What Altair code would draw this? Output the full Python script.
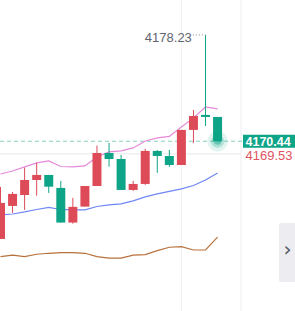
import altair as alt
import pandas as pd

# ---- data ----
opens  = [4163.28, 4165.70, 4166.50, 4167.60, 4167.97, 4167.02, 4164.48, 4165.65, 4167.16, 4169.58,
          4169.14, 4166.87, 4167.31, 4169.73, 4169.36, 4168.70, 4171.27, 4172.37, 4172.22]
closes = [4165.92, 4166.58, 4167.60, 4167.97, 4167.11, 4164.48, 4165.63, 4167.16, 4169.58, 4169.14,
          4166.87, 4167.31, 4169.73, 4169.36, 4168.70, 4171.27, 4172.29, 4172.22, 4170.44]
highs  = [4167.09, 4166.72, 4168.51, 4168.85, 4167.97, 4167.53, 4166.29, 4167.16, 4170.12, 4170.32,
          4169.44, 4167.53, 4169.88, 4169.80, 4169.80, 4171.27, 4172.73, 4178.23, 4172.22]
lows   = [4163.28, 4165.19, 4165.41, 4166.45, 4166.65, 4164.48, 4164.40, 4165.65, 4167.16, 4168.58,
          4166.87, 4166.80, 4167.24, 4168.12, 4168.56, 4168.70, 4170.32, 4171.56, 4170.44]
upper  = [4168.04, 4168.26, 4168.56, 4168.85, 4169.00, 4168.59, 4168.56, 4168.63, 4169.29, 4169.66,
          4169.73, 4169.95, 4170.46, 4170.68, 4170.79, 4171.49, 4172.15, 4172.95, 4172.81]
lower  = [4165.04, 4165.11, 4165.26, 4165.44, 4165.59, 4165.44, 4165.41, 4165.41, 4165.66, 4165.77,
          4165.85, 4166.07, 4166.36, 4166.58, 4166.76, 4166.95, 4167.20, 4167.60, 4168.12]
brown  = [4161.98, 4162.09, 4161.98, 4162.16, 4162.23, 4162.28, 4162.28, 4162.23, 4161.98, 4161.87,
          4161.87, 4162.09, 4162.13, 4162.42, 4162.67, 4162.72, 4162.47, 4162.47, 4163.41]

last_price = 4170.44
prev_price = 4169.53
max_price = 4178.23
max_index = 17
grid_index = 15

RED = "#dd4b58"
GREEN = "#0ea487"

n = len(opens)
df = pd.DataFrame({
    "i": list(range(n)),
    "open": opens, "close": closes, "high": highs, "low": lows,
    "upper": upper, "lower": lower, "brown": brown,
})
df["dir"] = ["up" if c >= o else "down" for o, c in zip(opens, closes)]

xs = alt.Scale(domain=[-0.0415, 24.42], nice=False, zero=False, padding=0)
ys = alt.Scale(domain=[4158.0, 4180.79], nice=False, zero=False, padding=0)
X = lambda f: alt.X(f, type="quantitative", scale=xs, axis=None)
Y = lambda f: alt.Y(f, type="quantitative", scale=ys, axis=None)
col = alt.Color("dir:N", scale=alt.Scale(domain=["up", "down"], range=[RED, GREEN]), legend=None)

base = alt.Chart(df)

# grid / reference lines
one = pd.DataFrame({"v": [0]})
vgrid = alt.Chart(pd.DataFrame({"i": [grid_index]})).mark_rule(color="#f1f1f3", strokeWidth=1).encode(
    x=X("i"), y=alt.value(0), y2=alt.value(311))
vsep = alt.Chart(pd.DataFrame({"i": [19.94]})).mark_rule(color="#efeff2", strokeWidth=1).encode(
    x=X("i"), y=alt.value(0), y2=alt.value(311))
prev_line = alt.Chart(pd.DataFrame({"p": [prev_price]})).mark_rule(color="#f0f0f2", strokeWidth=1.5).encode(
    y=Y("p"), x=alt.value(0), x2=alt.value(241))
last_line = alt.Chart(pd.DataFrame({"p": [last_price]})).mark_rule(
    color="#86d2bd", strokeWidth=1, strokeDash=[4, 3]).encode(
    y=Y("p"), x=alt.value(0), x2=alt.value(242))

# indicator lines
l_up = base.mark_line(color="#e589da", strokeWidth=1.2).encode(x=X("i"), y=Y("upper"))
l_lo = base.mark_line(color="#6f86f5", strokeWidth=1.2).encode(x=X("i"), y=Y("lower"))
l_br = base.mark_line(color="#b8703c", strokeWidth=1.2).encode(x=X("i"), y=Y("brown"))

# candles
wicks = base.mark_rule(strokeWidth=1).encode(x=X("i"), y=Y("low"), y2="high", color=col)
bodies = base.mark_bar(size=9).encode(x=X("i"), y=Y("open"), y2="close", color=col)

# glow at last price
last_pt = pd.DataFrame({"i": [n - 1], "p": [last_price]})
glow1 = alt.Chart(last_pt).mark_circle(color=GREEN, opacity=0.12, size=420).encode(x=X("i"), y=Y("p"))
glow2 = alt.Chart(last_pt).mark_circle(color=GREEN, opacity=0.25, size=170).encode(x=X("i"), y=Y("p"))
glow3 = alt.Chart(last_pt).mark_circle(color=GREEN, opacity=0.45, size=50).encode(x=X("i"), y=Y("p"))

# max annotation
max_df = pd.DataFrame({"i": [max_index], "p": [max_price], "t": [f"{max_price:.2f}"],
                       "a": [max_index - 1.05]})
max_dots = alt.Chart(max_df).mark_rule(color="#8a8f99", strokeWidth=1, strokeDash=[1, 2]).encode(
    x=X("a"), x2="i", y=Y("p"))
max_text = alt.Chart(max_df).mark_text(align="right", baseline="middle", dx=-1, dy=3,
                                       font="Liberation Sans", fontSize=13, color="#5f6570").encode(
    x=X("a"), y=Y("p"), text="t:N")

# right price labels
lab_df = pd.DataFrame({"p": [last_price], "t": [f"{last_price:.2f}"]})
lab_box = alt.Chart(lab_df).mark_rect(color=GREEN, height=13).encode(
    x=alt.value(243), x2=alt.value(295), y=Y("p"))
lab_txt = alt.Chart(lab_df).mark_text(align="left", baseline="middle", dy=0.5, font="Liberation Sans",
                                      fontSize=12.5, fontWeight="bold", color="white").encode(
    x=alt.value(245.5), y=Y("p"), text="t:N")
prev_df = pd.DataFrame({"p": [prev_price], "t": [f"{prev_price:.2f}"]})
prev_txt = alt.Chart(prev_df).mark_text(align="left", baseline="middle", dy=2, font="Liberation Sans",
                                        fontSize=13, color="#e0535f").encode(
    x=alt.value(245.5), y=Y("p"), text="t:N")

# side button
btn = alt.Chart(one).mark_rect(color="#ececf1", cornerRadius=2).encode(
    x=alt.value(279), x2=alt.value(296), y=alt.value(223), y2=alt.value(282))
chev = alt.Chart(one).mark_text(text="›", fontSize=20, font="DejaVu Sans", color="#555b66",
                                baseline="middle", align="center").encode(
    x=alt.value(287.5), y=alt.value(250))

chart = alt.layer(
    vgrid, vsep, prev_line, last_line, l_br, l_lo, l_up, wicks, bodies,
    glow1, glow2, glow3, max_dots, max_text, lab_box, lab_txt, prev_txt, btn, chev
).properties(
    width=295, height=311, padding=0, autosize=alt.AutoSizeParams(type="none"),
    background="white"
).configure_view(stroke=None)

chart.save("out.html", embed_options={"renderer": "svg", "actions": False})
